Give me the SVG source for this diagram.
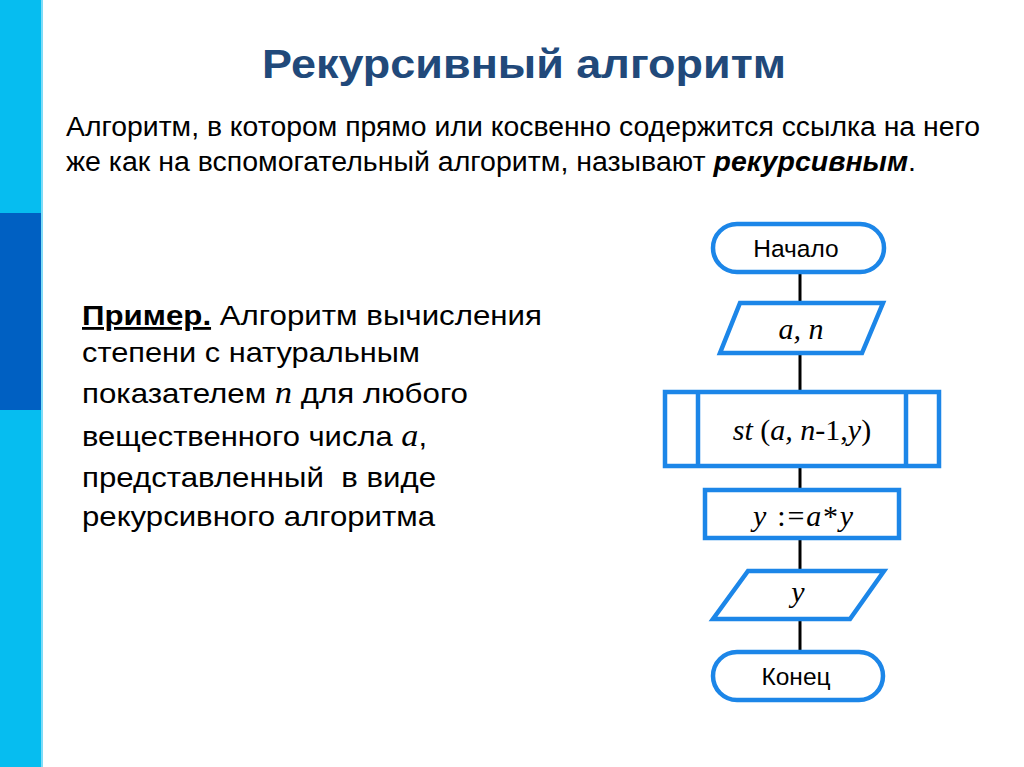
<svg xmlns="http://www.w3.org/2000/svg" width="1024" height="767" viewBox="0 0 1024 767">
<style>
.sh{fill:#fff;stroke:#1c86e8;stroke-width:4.5}
.cn{stroke:#000;stroke-width:3;fill:none}
.sans{font-family:"Liberation Sans",Arial,sans-serif;fill:#000}
.math{font-family:"Liberation Serif","Times New Roman",serif;font-style:italic;fill:#000;font-size:30px}
.up{font-style:normal}
.var{font-family:"Liberation Serif","Times New Roman",serif;font-style:italic;font-size:31px}
</style>
<rect width="1024" height="767" fill="#fff"/>
<rect x="0" y="0" width="41" height="767" fill="#06bdf0"/>
<rect x="0" y="213" width="41" height="197" fill="#0060c2"/>
<rect x="41" y="0" width="2" height="767" fill="#7fdcf7"/>
<text x="262" y="78" textLength="524" lengthAdjust="spacingAndGlyphs" font-family="'Liberation Sans',Arial,sans-serif" font-weight="bold" font-size="40" fill="#21497a">Рекурсивный алгоритм</text>
<g class="sans" font-size="27">
<text x="66" y="136" textLength="914" lengthAdjust="spacingAndGlyphs">Алгоритм, в котором прямо или косвенно содержится ссылка на него</text>
<text x="66" y="171" textLength="850" lengthAdjust="spacingAndGlyphs">же как на вспомогательный алгоритм, называют <tspan font-weight="bold" font-style="italic">рекурсивным</tspan>.</text>
</g>
<g class="sans" font-size="28">
<text x="82" y="325" textLength="460" lengthAdjust="spacingAndGlyphs"><tspan font-weight="bold" text-decoration="underline">Пример.</tspan> Алгоритм вычисления</text>
<text x="82" y="362" textLength="338" lengthAdjust="spacingAndGlyphs">степени с натуральным</text>
<text x="82" y="403" textLength="386" lengthAdjust="spacingAndGlyphs">показателем <tspan class="var">n</tspan> для любого</text>
<text x="82" y="446" textLength="345" lengthAdjust="spacingAndGlyphs">вещественного числа <tspan class="var">a</tspan>,</text>
<text x="82" y="487" textLength="354" lengthAdjust="spacingAndGlyphs" xml:space="preserve">представленный  в виде</text>
<text x="82" y="526" textLength="353" lengthAdjust="spacingAndGlyphs">рекурсивного алгоритма</text>
</g>
<g id="connectors">
<line class="cn" x1="800" y1="272" x2="800" y2="303"/>
<line class="cn" x1="800" y1="353" x2="800" y2="392"/>
<line class="cn" x1="800" y1="466" x2="800" y2="490"/>
<line class="cn" x1="800" y1="539" x2="800" y2="571"/>
<line class="cn" x1="800" y1="620" x2="800" y2="652"/>
</g>
<g id="start">
<rect class="sh" x="713" y="224" width="171" height="48" rx="24"/>
<text class="sans" x="796" y="257" font-size="24.5" text-anchor="middle">Начало</text>
</g>
<g id="input">
<polygon class="sh" points="740,303 883,303 862,353 720,353"/>
<text class="math" x="801" y="339" text-anchor="middle">a, n</text>
</g>
<g id="call">
<rect class="sh" x="665" y="392" width="274" height="74"/>
<line class="sh" x1="698" y1="392" x2="698" y2="466"/>
<line class="sh" x1="906" y1="392" x2="906" y2="466"/>
<text class="math" x="802" y="440" text-anchor="middle">st <tspan class="up">(</tspan>a, n<tspan class="up">-1,</tspan>y<tspan class="up">)</tspan></text>
</g>
<g id="assign">
<rect class="sh" x="705" y="490" width="194" height="48"/>
<text class="math" x="803" y="526" text-anchor="middle" textLength="100" lengthAdjust="spacing">y <tspan class="up">:=</tspan>a<tspan class="up">*</tspan>y</text>
</g>
<g id="output">
<polygon class="sh" points="748,571 884,571 850,619 713,619"/>
<text class="math" x="798" y="602" text-anchor="middle">y</text>
</g>
<g id="end">
<rect class="sh" x="713" y="652" width="170" height="48" rx="24"/>
<text class="sans" x="796" y="685" font-size="24.5" text-anchor="middle">Конец</text>
</g>
</svg>
